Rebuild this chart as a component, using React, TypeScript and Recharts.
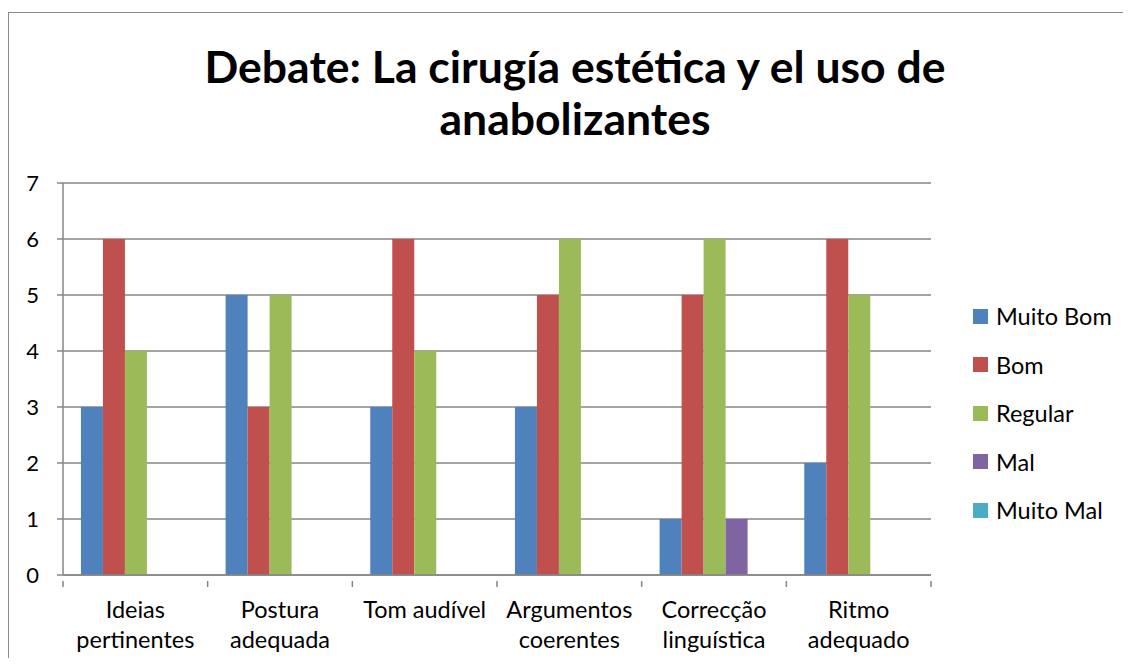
import React from "react"
import { BarChart, Bar, XAxis, YAxis, CartesianGrid, Legend } from "recharts"

const CATEGORIES = [
  "Ideias pertinentes",
  "Postura adequada",
  "Tom audível",
  "Argumentos coerentes",
  "Correcção linguística",
  "Ritmo adequado",
]

const MUITO_BOM = [3, 5, 3, 3, 1, 2]
const BOM = [6, 3, 6, 5, 5, 6]
const REGULAR = [4, 5, 4, 6, 6, 5]
const MAL = [0, 0, 0, 0, 1, 0]
const MUITO_MAL = [0, 0, 0, 0, 0, 0]

const Y_TICKS = [0, 1, 2, 3, 4, 5, 6, 7]

const SERIES = [
  { key: "Muito Bom", values: MUITO_BOM, color: "#4F81BD" },
  { key: "Bom", values: BOM, color: "#C0504D" },
  { key: "Regular", values: REGULAR, color: "#9BBB59" },
  { key: "Mal", values: MAL, color: "#8064A2" },
  { key: "Muito Mal", values: MUITO_MAL, color: "#4BACC6" },
]

// line breaks for the category labels, as in the original
const LABEL_LINES: Record<string, string[]> = {
  "Ideias pertinentes": ["Ideias", "pertinentes"],
  "Postura adequada": ["Postura", "adequada"],
  "Tom audível": ["Tom audível"],
  "Argumentos coerentes": ["Argumentos", "coerentes"],
  "Correcção linguística": ["Correcção", "linguística"],
  "Ritmo adequado": ["Ritmo", "adequado"],
}

const data = CATEGORIES.map((name, i) => {
  const row: Record<string, string | number> = { name }
  SERIES.forEach((s) => (row[s.key] = s.values[i]))
  return row
})

const FONT = "Lato, 'Open Sans', sans-serif"
const AXIS = "#868686"

function CategoryTick(props: any) {
  const { x, y, payload, index } = props
  const half = payload.offset ?? 0
  const lines = LABEL_LINES[payload.value] ?? [payload.value]
  const last = index === CATEGORIES.length - 1
  return (
    <g>
      <line x1={x - half} x2={x - half} y1={y - 2} y2={y + 4} stroke={AXIS} strokeWidth={1.5} />
      {last && (
        <line x1={x + half} x2={x + half} y1={y - 2} y2={y + 4} stroke={AXIS} strokeWidth={1.5} />
      )}
      {lines.map((l, i) => (
        <text
          key={i}
          x={x}
          y={y + 35 + i * 30}
          textAnchor="middle"
          fontSize={23.5}
          fontFamily={FONT}
          fill="#000"
        >
          {l}
        </text>
      ))}
    </g>
  )
}

// legend in series order (Recharts would sort it by name)
function LegendBox() {
  return (
    <div style={{ fontFamily: FONT, fontSize: 23.5, color: "#000" }}>
      {SERIES.map((s) => (
        <div key={s.key} style={{ display: "flex", alignItems: "center", height: 48.5 }}>
          <span style={{ width: 15, height: 15, background: s.color, marginRight: 8 }} />
          <span>{s.key}</span>
        </div>
      ))}
    </div>
  )
}

export default function App() {
  return (
    <div style={{ position: "relative", width: 1131, height: 666, margin: -8, overflow: "hidden", background: "#fff" }}>
      <div
        style={{
          position: "absolute",
          left: 8,
          top: 12,
          width: 1134,
          height: 720,
          border: "1.5px solid #898989",
          boxSizing: "border-box",
        }}
      />
      <div
        style={{
          position: "absolute",
          left: 8,
          width: 1134,
          top: 40,
          textAlign: "center",
          fontFamily: FONT,
          fontWeight: 700,
          fontSize: 44.5,
          lineHeight: "52px",
          color: "#000",
        }}
      >
        Debate: La cirugía estética y el uso de
        <br />
        anabolizantes
      </div>
      <div style={{ position: "absolute", left: 0, top: 0 }}>
        <BarChart
          width={1131}
          height={666}
          data={data}
          margin={{ top: 183, right: 200, bottom: 31, left: 23 }}
          barCategoryGap="12.4%"
          barGap={0}
        >
          <CartesianGrid vertical={false} stroke={AXIS} strokeWidth={1.5} />
          <XAxis
            dataKey="name"
            height={60}
            interval={0}
            axisLine={{ stroke: AXIS, strokeWidth: 1.5 }}
            tickLine={false}
            tick={<CategoryTick />}
          />
          <YAxis
            width={40}
            domain={[0, 7]}
            ticks={Y_TICKS}
            interval={0}
            axisLine={{ stroke: AXIS, strokeWidth: 1.5 }}
            tickLine={{ stroke: AXIS, strokeWidth: 1.5 }}
            tickSize={6}
            tickMargin={18}
            tick={{ fontSize: 22, fontFamily: FONT, fill: "#000" }}
          />
          <Legend
            layout="horizontal"
            align="left"
            verticalAlign="top"
            wrapperStyle={{ position: "absolute", left: 973, top: 292, width: 160, height: 0 }}
            content={<LegendBox />}
          />
          {SERIES.map((s) => (
            <Bar key={s.key} dataKey={s.key} fill={s.color} isAnimationActive={false} />
          ))}
        </BarChart>
      </div>
    </div>
  )
}
